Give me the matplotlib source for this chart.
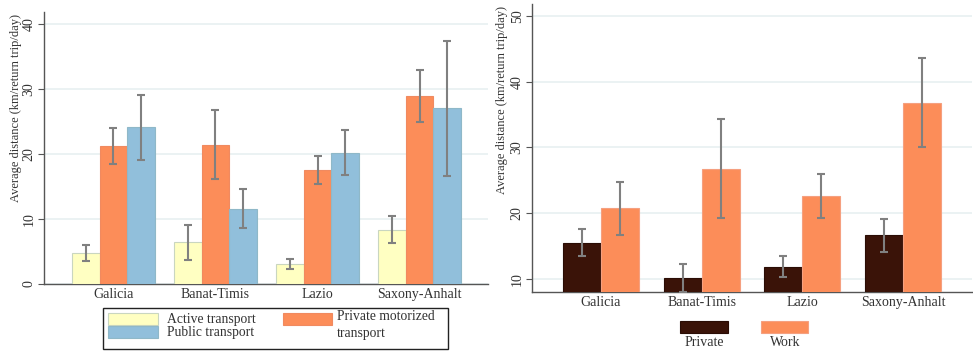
import matplotlib
matplotlib.use("Agg")
import matplotlib.pyplot as plt
import numpy as np
from matplotlib.patches import Rectangle

plt.rcParams['font.family'] = ['Liberation Serif', 'DejaVu Serif']

regions = ["Galicia", "Banat-Timis", "Lazio", "Saxony-Anhalt"]

# Left panel: mode of transport
active = [4.8, 6.4, 3.0, 8.3]
active_lo = [3.6, 3.75, 2.3, 6.3]
active_hi = [5.95, 9.0, 3.8, 10.4]
privmot = [21.2, 21.4, 17.5, 28.9]
privmot_lo = [18.5, 16.2, 15.4, 24.9]
privmot_hi = [23.9, 26.7, 19.6, 32.9]
public = [24.1, 11.5, 20.2, 27.0]
public_lo = [19.0, 8.6, 16.8, 16.6]
public_hi = [29.1, 14.6, 23.6, 37.4]

# Right panel: purpose of trip
private = [15.5, 10.1, 11.8, 16.6]
private_lo = [13.55, 8.0, 10.3, 14.1]
private_hi = [17.55, 12.2, 13.4, 19.1]
work = [20.7, 26.7, 22.6, 36.8]
work_lo = [16.6, 19.2, 19.2, 30.0]
work_hi = [24.7, 34.3, 26.0, 43.6]

legend_left = ["Active transport", "Public transport", "Private motorized\ntransport"]
legend_right = ["Private", "Work"]

c_active = "#FFFFC2"
c_priv = "#FC8D59"
c_pub = "#91BFDB"
c_dark = "#3A1308"
c_err = "#808080"
grid_c = "#E8F0F1"
spine_c = "#555555"
txt_c = "#333333"

W, H = 973, 351
fig = plt.figure(figsize=(W / 100, H / 100), dpi=100)

def fx(px):
    return px / W

def fy(py):
    return 1 - py / H

def style(ax, ylim, yticks, lab_xy):
    ax.set_ylim(*ylim)
    ax.set_yticks(yticks)
    ax.set_yticklabels([str(t) for t in yticks], rotation=90, va='center', fontsize=10, color=txt_c)
    ax.yaxis.grid(True, color=grid_c, linewidth=1.2)
    ax.set_axisbelow(True)
    for s in ['top', 'right']:
        ax.spines[s].set_visible(False)
    for s in ['left', 'bottom']:
        ax.spines[s].set_color(spine_c)
        ax.spines[s].set_linewidth(1.0)
    ax.tick_params(axis='y', length=4, color=spine_c, pad=2)
    ax.tick_params(axis='x', length=0, pad=3, labelsize=10, labelcolor=txt_c)
    ax.set_ylabel("Average distance (km/return trip/day)", fontsize=9.0, color=txt_c)
    ax.yaxis.set_label_coords(*lab_xy)
    ax.yaxis.label.set_va('center')

def errbar(ax, x, v, lo, hi):
    v = np.array(v); lo = np.array(lo); hi = np.array(hi)
    ax.errorbar(x, v, yerr=[v - lo, hi - v], fmt='none', ecolor=c_err,
                elinewidth=1.5, capsize=3, capthick=1.5, zorder=5)

# Left axes
ax1 = fig.add_axes([fx(44), fy(284), fx(444), 272 / H])
x = np.arange(1, 5)
w = 0.27
ax1.bar(x - w, active, w, color=c_active, edgecolor="#C9D6C0", linewidth=0.8, zorder=3)
ax1.bar(x, privmot, w, color=c_priv, edgecolor="#F08A60", linewidth=0.8, zorder=3)
ax1.bar(x + w, public, w, color=c_pub, edgecolor="#8FB8C8", linewidth=0.8, zorder=3)
errbar(ax1, x - w, active, active_lo, active_hi)
errbar(ax1, x, privmot, privmot_lo, privmot_hi)
errbar(ax1, x + w, public, public_lo, public_hi)
ax1.set_xlim(0.32, 4.67)
ax1.set_xticks(x)
ax1.set_xticklabels(regions)
style(ax1, (0, 41.8), [0, 10, 20, 30, 40], ((16 - 44) / 444, (284 - 107.5) / 272))

# Left legend (built by hand in figure pixels)
fig.add_artist(Rectangle((fx(103), fy(349)), fx(448) - fx(103), fy(308) - fy(349),
                         transform=fig.transFigure, facecolor='white',
                         edgecolor='#222222', linewidth=1.0))
def leg_patch(x0, y0, x1, y1, fc, ec):
    fig.add_artist(Rectangle((fx(x0), fy(y1)), fx(x1) - fx(x0), fy(y0) - fy(y1),
                             transform=fig.transFigure, facecolor=fc,
                             edgecolor=ec, linewidth=0.8))
leg_patch(108, 313, 158, 325, c_active, "#C9D6C0")
leg_patch(108, 325.5, 158, 338, c_pub, "#8FB8C8")
leg_patch(283, 313, 332, 325, c_priv, "#F08A60")
fig.text(fx(167), fy(319), legend_left[0], fontsize=9.8, va='center', ha='left', color=txt_c)
fig.text(fx(167), fy(332.5), legend_left[1], fontsize=9.8, va='center', ha='left', color=txt_c)
fig.text(fx(337), fy(325), legend_left[2], fontsize=9.8, va='center', ha='left',
         color=txt_c, linespacing=1.3)

# Right axes
ax2 = fig.add_axes([fx(532), fy(292), fx(440), 288 / H])
w2 = 0.377
ax2.bar(x - w2 / 2, private, w2, color=c_dark, edgecolor="#2A0D05", linewidth=0.8, zorder=3)
ax2.bar(x + w2 / 2, work, w2, color=c_priv, edgecolor="#F5A080", linewidth=0.8, zorder=3)
errbar(ax2, x - w2 / 2, private, private_lo, private_hi)
errbar(ax2, x + w2 / 2, work, work_lo, work_hi)
ax2.set_xlim(0.315, 4.685)
ax2.set_xticks(x)
ax2.set_xticklabels(regions)
style(ax2, (8.0, 51.8), [10, 20, 30, 40, 50], ((502 - 532) / 440, (292 - 100) / 288))

# Right legend: patches with labels below
leg_patch(680, 321, 728, 333, c_dark, "#2A0D05")
leg_patch(761, 321, 808, 333, c_priv, "#F5A080")
fig.text(fx(704), fy(343), legend_right[0], fontsize=10, va='center', ha='center', color=txt_c)
fig.text(fx(785), fy(343), legend_right[1], fontsize=10, va='center', ha='center', color=txt_c)

fig.savefig("out.png", dpi=100)
